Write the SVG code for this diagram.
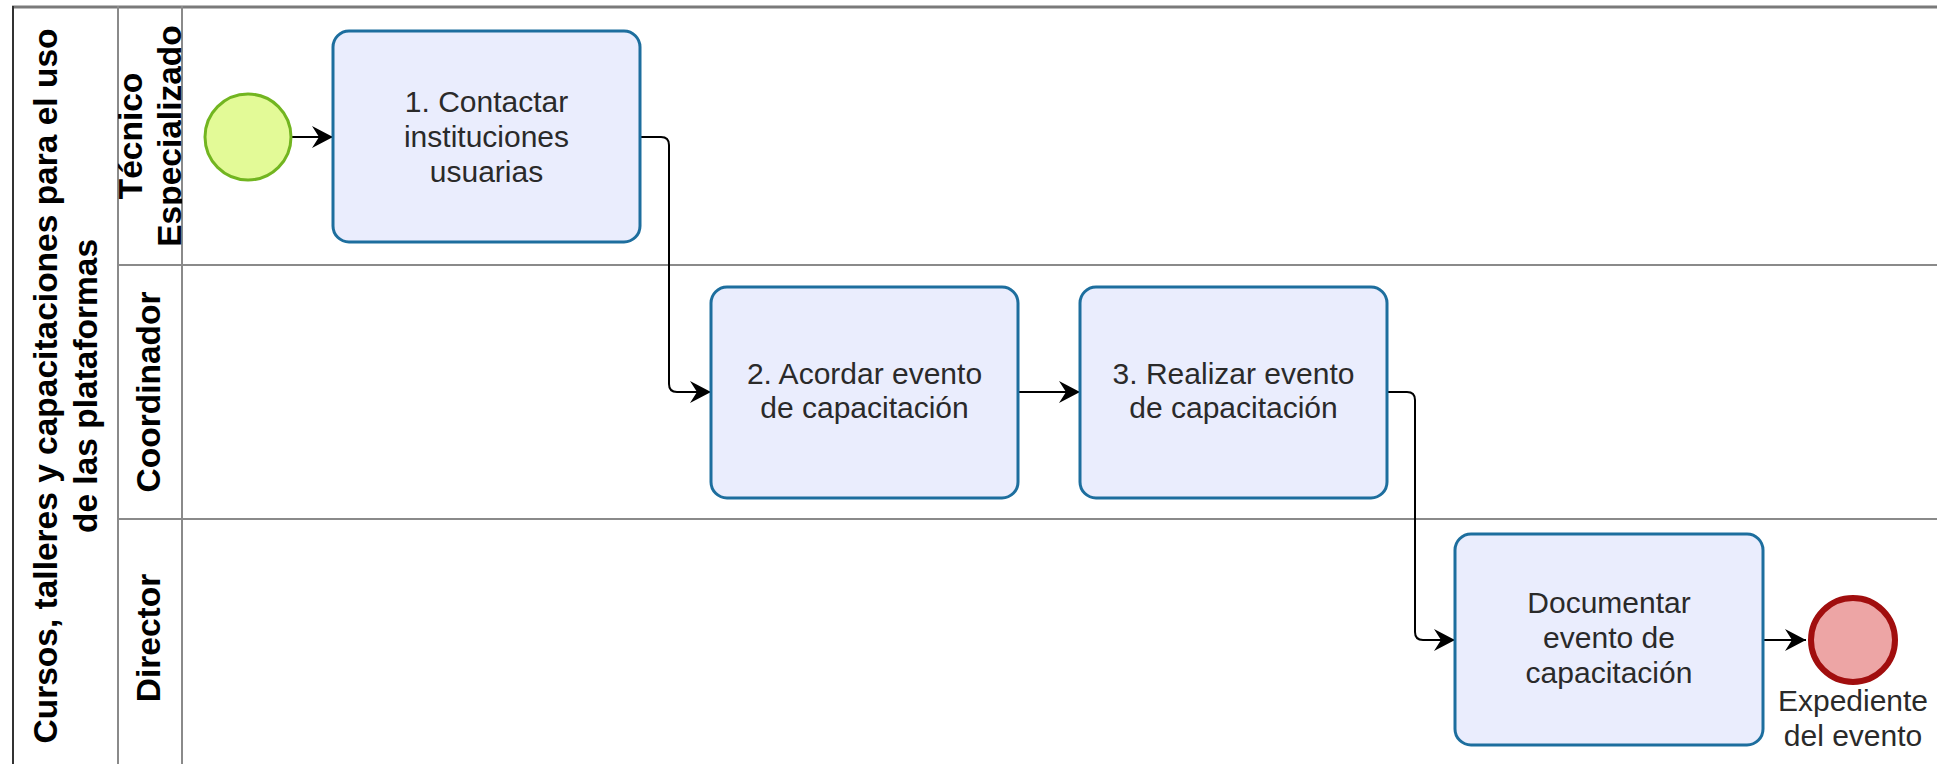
<svg xmlns="http://www.w3.org/2000/svg" width="1937" height="764" viewBox="0 0 1937 764">
<style>
.lane{stroke:#8a8a8a;stroke-width:2;fill:none}
.task{fill:#EAEDFD;stroke:#1D6E9E;stroke-width:3}
.tt{font-family:"Liberation Sans",Arial,sans-serif;font-size:30px;fill:#2a2a2a;text-anchor:middle}
.hdr{font-family:"Liberation Sans",Arial,sans-serif;font-size:33.5px;font-weight:bold;fill:#000;text-anchor:middle}
.conn{stroke:#000;stroke-width:2;fill:none;marker-end:url(#arr)}
</style>
<defs>
<marker id="arr" viewBox="-22 -12 24 24" refX="0" refY="0" markerWidth="24" markerHeight="24" markerUnits="userSpaceOnUse" orient="auto">
<path d="M0,0 L-21,-11 L-14,0 L-21,11 Z" fill="#000"/>
</marker>
<clipPath id="lh"><rect x="118" y="6" width="64" height="258"/></clipPath>
</defs>
<rect width="1937" height="764" fill="#fff"/>
<g id="pool">
<line x1="12" y1="7" x2="1937" y2="7" stroke="#7a7a7a" stroke-width="3"/>
<line x1="13" y1="6" x2="13" y2="764" stroke="#333" stroke-width="2"/>
<line x1="118" y1="6" x2="118" y2="764" class="lane"/>
<line x1="182" y1="6" x2="182" y2="764" class="lane"/>
<line x1="118" y1="265" x2="1937" y2="265" class="lane"/>
<line x1="118" y1="519" x2="1937" y2="519" class="lane"/>
<text class="hdr" transform="translate(57,386) rotate(-90)">Cursos, talleres y capacitaciones para el uso</text>
<text class="hdr" transform="translate(97,386) rotate(-90)">de las plataformas</text>
</g>
<g id="lane1">
<g clip-path="url(#lh)">
<text class="hdr" transform="translate(142,136) rotate(-90)">Técnico</text>
<text class="hdr" transform="translate(181,136) rotate(-90)">Especializado</text>
</g>
</g>
<g id="lane2"><text class="hdr" transform="translate(160,392) rotate(-90)">Coordinador</text></g>
<g id="lane3"><text class="hdr" transform="translate(160,638) rotate(-90)">Director</text></g>
<g id="connectors">
<path class="conn" d="M292,137 H333"/>
<path class="conn" d="M641,137 H661 Q669,137 669,145 V384 Q669,392 677,392 H711"/>
<path class="conn" d="M1018,392 H1080"/>
<path class="conn" d="M1387,392 H1407 Q1415,392 1415,400 V632 Q1415,640 1423,640 H1455"/>
<path class="conn" d="M1763,640 H1806"/>
</g>
<g id="start"><circle cx="248" cy="137" r="43" fill="#E3FA97" stroke="#72B520" stroke-width="3"/></g>
<g id="task1">
<rect class="task" x="333" y="31" width="307" height="211" rx="16"/>
<text class="tt" x="486.5" y="112">1. Contactar</text>
<text class="tt" x="486.5" y="147">instituciones</text>
<text class="tt" x="486.5" y="182">usuarias</text>
</g>
<g id="task2">
<rect class="task" x="711" y="287" width="307" height="211" rx="16"/>
<text class="tt" x="864.5" y="384">2. Acordar evento</text>
<text class="tt" x="864.5" y="418">de capacitación</text>
</g>
<g id="task3">
<rect class="task" x="1080" y="287" width="307" height="211" rx="16"/>
<text class="tt" x="1233.5" y="384">3. Realizar evento</text>
<text class="tt" x="1233.5" y="418">de capacitación</text>
</g>
<g id="task4">
<rect class="task" x="1455" y="534" width="308" height="211" rx="16"/>
<text class="tt" x="1609" y="613">Documentar</text>
<text class="tt" x="1609" y="648">evento de</text>
<text class="tt" x="1609" y="683">capacitación</text>
</g>
<g id="end">
<circle cx="1853" cy="640" r="42" fill="#EDA5A5" stroke="#A10E0E" stroke-width="6"/>
<text class="tt" x="1853" y="711">Expediente</text>
<text class="tt" x="1853" y="746">del evento</text>
</g>
</svg>
